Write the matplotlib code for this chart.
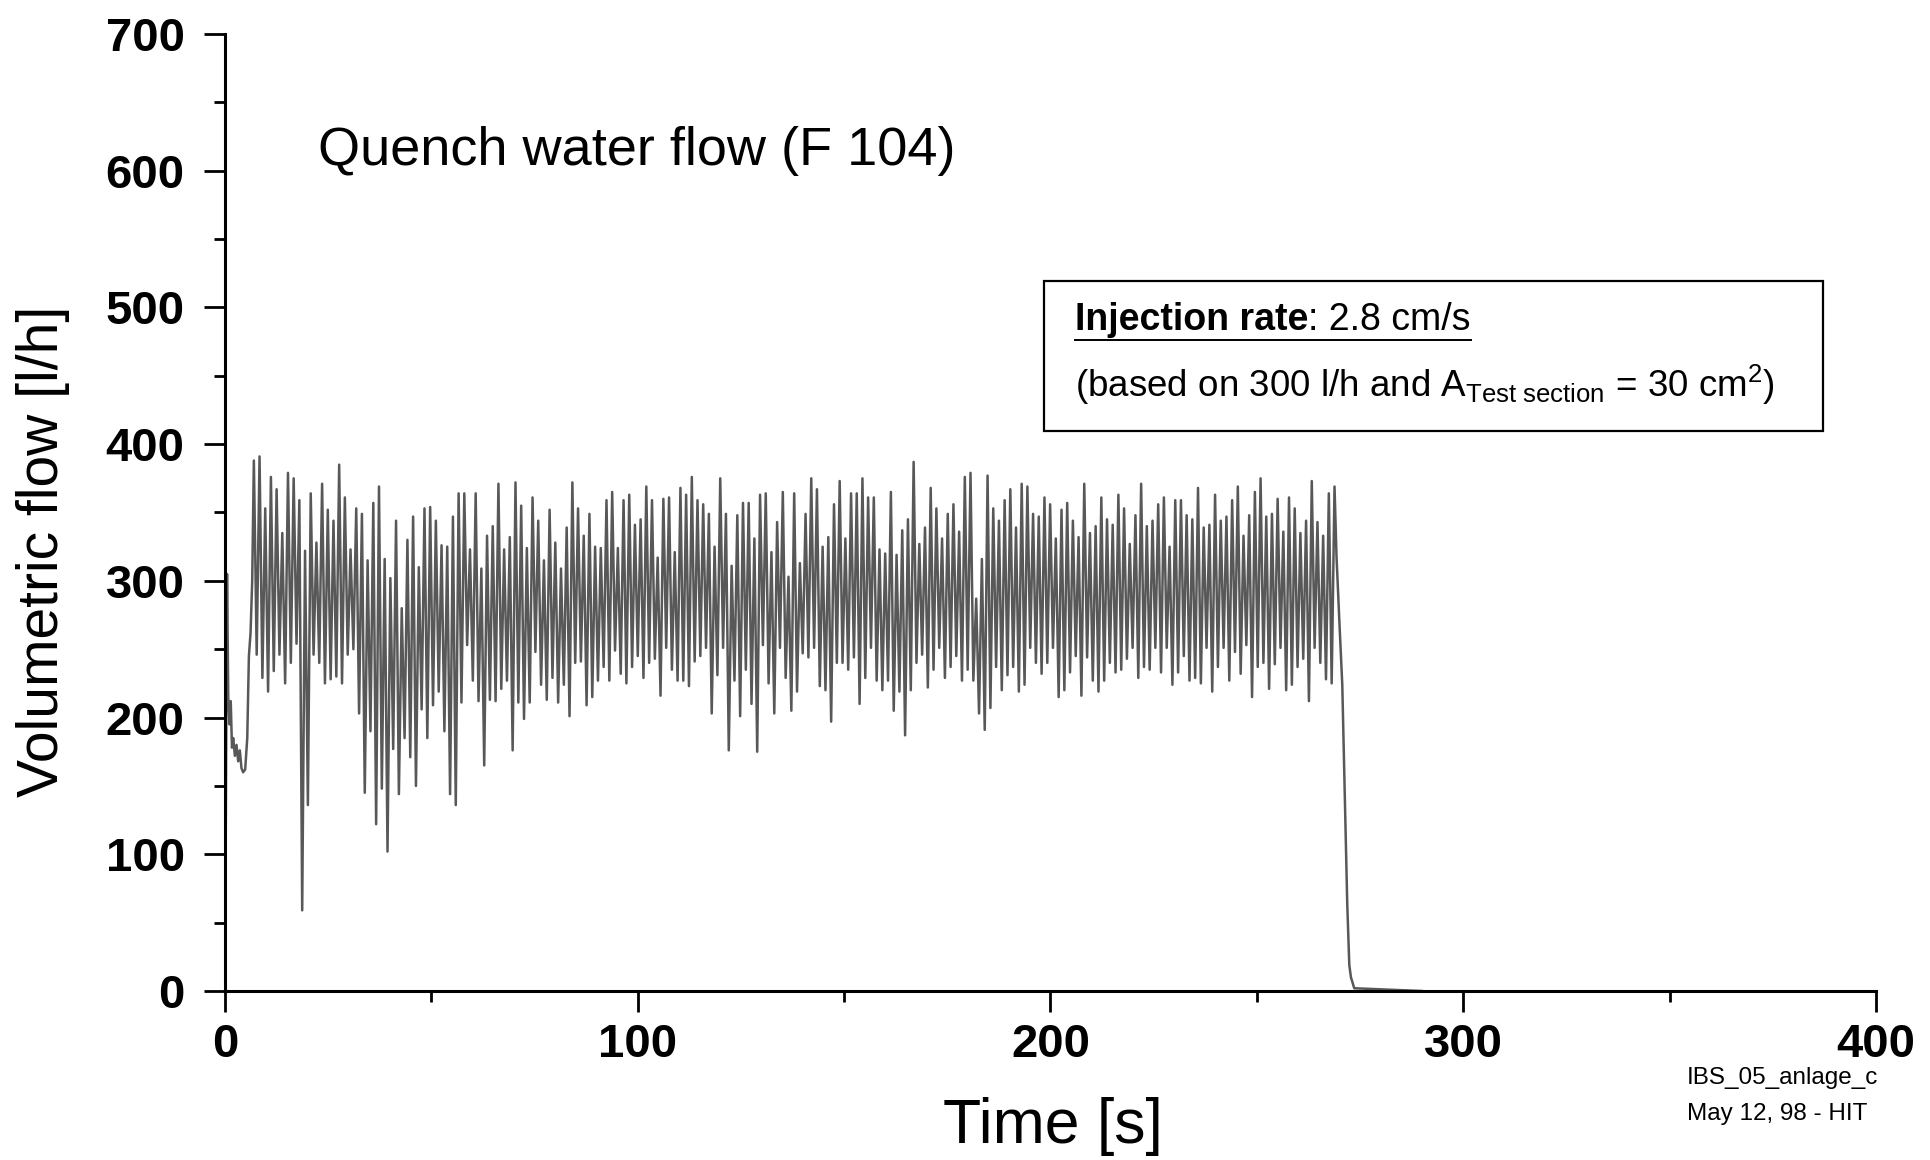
import numpy as np
import matplotlib
matplotlib.use("Agg")
import matplotlib.pyplot as plt
from matplotlib.patches import Rectangle
from matplotlib.lines import Line2D
from matplotlib.ticker import MultipleLocator

plt.rcParams["font.family"] = ["Liberation Sans", "DejaVu Sans"]
plt.rcParams["mathtext.fontset"] = "custom"
plt.rcParams["mathtext.rm"] = "Liberation Sans"
plt.rcParams["mathtext.it"] = "Liberation Sans:italic"
plt.rcParams["mathtext.bf"] = "Liberation Sans:bold"

# --------------------------------------------------
# Data (time in s, flow in l/h)
# --------------------------------------------------

# start-up before the oscillating injection
t_start = [0.0, 0.5, 0.8, 1.1, 1.4, 1.7, 2.0, 2.4, 2.8, 3.2, 3.6, 4.0,
           4.4, 4.9, 5.4, 5.8, 6.2, 6.6]
v_start = [0, 305, 215, 195, 212, 178, 185, 172, 180, 168, 176, 163,
           160, 162, 185, 245, 262, 300]

# oscillation: alternating peak / trough values, half period 0.689 s from 7 s
osc_t0 = 7.0
osc_half_period = 0.689

peaks_a = [388, 391, 353, 376, 367, 335, 379, 375, 359, 322, 364, 328,
           371, 352, 344, 385, 361, 323, 353, 349, 315, 357, 369, 316,
           302, 344, 280, 330, 347, 310, 353, 354, 344, 326]
troughs_a = [246, 229, 219, 234, 246, 225, 240, 254, 59, 136, 246, 240,
             225, 228, 230, 225, 246, 250, 203, 145, 190, 122, 148, 102,
             177, 144, 185, 171, 150, 206, 185, 209, 219, 190]

peaks_b = [325, 347, 364, 364, 323, 364, 309, 333, 340, 371, 323, 332,
           372, 355, 324, 361, 344, 315, 352, 328, 309, 339, 372, 353,
           333, 349, 325, 324, 359, 365, 324, 359, 363, 341, 345, 369,
           359, 317, 360, 361, 321, 368]
troughs_b = [144, 136, 211, 253, 227, 212, 165, 213, 212, 221, 227, 176,
             211, 199, 211, 248, 224, 213, 229, 211, 224, 201, 240, 241,
             209, 215, 227, 237, 227, 249, 232, 225, 237, 245, 229, 240,
             243, 216, 251, 235, 227, 227]

peaks_c = [363, 376, 359, 356, 349, 325, 375, 349, 311, 348, 357, 357,
           331, 363, 364, 321, 343, 365, 303, 364, 313, 349, 375, 367,
           325, 332, 356, 373, 331, 364, 364, 375, 361, 361, 323, 320,
           365, 319, 337, 345, 387]
troughs_c = [223, 241, 245, 251, 203, 231, 251, 176, 227, 201, 235, 210,
             175, 253, 225, 203, 251, 229, 205, 219, 247, 244, 251, 223,
             220, 197, 240, 240, 235, 244, 210, 229, 251, 227, 220, 227,
             205, 219, 187, 220, 240]

peaks_d = [327, 339, 368, 353, 331, 349, 356, 336, 376, 379, 287, 316,
           377, 353, 344, 359, 367, 339, 371, 369, 349, 347, 361, 356,
           331, 352, 357, 344, 332, 371, 335, 340, 361, 345, 341, 363,
           353, 327, 348, 371, 340, 344, 356]
troughs_d = [246, 222, 235, 251, 229, 237, 245, 227, 235, 227, 203, 191,
             207, 237, 220, 231, 237, 219, 224, 251, 240, 232, 240, 251,
             215, 220, 233, 245, 216, 244, 227, 219, 227, 240, 233, 235,
             243, 251, 229, 237, 235, 251, 233]

peaks_e = [361, 325, 359, 359, 348, 345, 368, 339, 341, 363, 344, 347,
           359, 369, 333, 348, 365, 375, 347, 349, 360, 336, 361, 353,
           335, 344, 373, 343, 333, 364, 369]
troughs_e = [251, 224, 233, 245, 227, 229, 225, 251, 219, 237, 251, 227,
             248, 232, 253, 215, 237, 240, 221, 239, 251, 220, 224, 237,
             243, 212, 251, 240, 228, 225]

# shut-off of the injection
t_end = [269.3, 270.0, 270.7, 271.3, 271.9, 272.4, 272.8, 273.6, 290.0]
v_end = [318, 270, 224, 144, 64, 19, 10, 2, 0]

# --------------------------------------------------
# Build the trace
# --------------------------------------------------

peaks = peaks_a + peaks_b + peaks_c + peaks_d + peaks_e
troughs = troughs_a + troughs_b + troughs_c + troughs_d + troughs_e

v_osc = []
for i, p in enumerate(peaks):
    v_osc.append(p)
    if i < len(troughs):
        v_osc.append(troughs[i])
t_osc = osc_t0 + osc_half_period * np.arange(len(v_osc))

t = np.concatenate([t_start, t_osc, t_end])
v = np.concatenate([v_start, v_osc, v_end])

# --------------------------------------------------
# Figure
# --------------------------------------------------

fig = plt.figure(figsize=(19.31, 11.6), dpi=100)
ax = fig.add_axes([0.1165, 0.1457, 0.855, 0.825])

ax.plot(t, v, color="#585858", lw=1.8)

ax.set_xlim(0, 400)
ax.set_ylim(0, 700)

for s in ("top", "right"):
    ax.spines[s].set_visible(False)
for s in ("left", "bottom"):
    ax.spines[s].set_linewidth(2.2)
    ax.spines[s].set_zorder(3)

ax.xaxis.set_major_locator(MultipleLocator(100))
ax.xaxis.set_minor_locator(MultipleLocator(50))
ax.yaxis.set_major_locator(MultipleLocator(100))
ax.yaxis.set_minor_locator(MultipleLocator(50))

ax.tick_params(which="major", direction="out", length=15, width=2.0,
               labelsize=34)
ax.tick_params(which="minor", direction="out", length=8, width=2.0)
ax.tick_params(axis="y", which="major", pad=14)
ax.tick_params(axis="x", which="major", pad=8)
for lab in ax.get_xticklabels() + ax.get_yticklabels():
    lab.set_fontweight("bold")

# axis labels and title
fig.text(43 / 1931, 1 - 551 / 1160, "Volumetric flow [l/h]", rotation=90,
         ha="center", va="center", fontsize=41)
fig.text(1053 / 1931, 1 - 1127 / 1160, "Time [s]", ha="center",
         va="center", fontsize=45)
fig.text(318 / 1931, 1 - 151 / 1160, "Quench water flow (F 104)",
         ha="left", va="center", fontsize=39)

# info box
fig.patches.append(Rectangle((1044 / 1931, 1 - 431 / 1160), 779 / 1931,
                             150 / 1160, transform=fig.transFigure,
                             fill=False, lw=1.6, edgecolor="black"))

tx = 1075 / 1931
t1 = fig.text(tx, 1 - 320 / 1160, "Injection rate", ha="left",
              va="center", fontsize=27, fontweight="bold")
fig.canvas.draw()
r = fig.canvas.get_renderer()
inv = fig.transFigure.inverted()
bb1 = t1.get_window_extent(r).transformed(inv)
t2 = fig.text(bb1.x1, 1 - 320 / 1160, ": 2.8 cm/s", ha="left",
              va="center", fontsize=27)
fig.canvas.draw()
bb2 = t2.get_window_extent(r).transformed(inv)
uy = min(bb1.y0, bb2.y0) - 2 / 1160
fig.lines.append(Line2D([bb1.x0, bb2.x1], [uy, uy], transform=fig.transFigure,
                        color="black", lw=1.4))

fig.text(tx, 1 - 385 / 1160,
         r"(based on 300 l/h and A$_{\mathrm{Test\ section}}$ = 30 cm$^{2}$)",
         ha="left", va="center", fontsize=26.5)

# footer
fig.text(1687 / 1931, 1 - 1078 / 1160, "IBS_05_anlage_c", ha="left",
         va="center", fontsize=17.5)
fig.text(1687 / 1931, 1 - 1114 / 1160, "May 12, 98 - HIT", ha="left",
         va="center", fontsize=17.5)

fig.savefig("out.png", dpi=100)
